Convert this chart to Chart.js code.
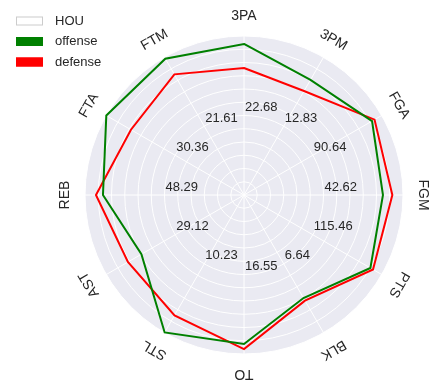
<!DOCTYPE html>
<html>
<head>
<meta charset="utf-8">
<script src="https://cdn.jsdelivr.net/npm/chart.js@4"></script>
<style>
  html, body { margin: 0; padding: 0; background: #fff; }
  #wrap { width: 437px; height: 388px; }
</style>
</head>
<body>
<div id="wrap"><canvas id="radar" width="437" height="388"></canvas></div>
<script>
// axes, clockwise from the top
var categories = ['3PA', '3PM', 'FGA', 'FGM', 'PTS', 'BLK', 'TO', 'STL', 'AST', 'REB', 'FTA', 'FTM'];

// one grid label per axis (each axis has its own scale)
var gridLabels = ['22.68', '12.83', '90.64', '42.62', '115.46', '6.64', '16.55', '10.23', '29.12', '48.29', '30.36', '21.61'];

// values as percent of each axis' range
var offense = [95, 83.6, 93, 87.4, 91.8, 74.8, 93.7, 99.8, 74.5, 88.7, 100, 99];
var defense = [79.9, 75.5, 94.8, 93.3, 93.7, 76.7, 96.9, 87.4, 84.3, 93.1, 82.1, 87.6];

var legendItems = [
    {label: 'HOU', fill: '#ffffff', stroke: '#cccccc'},
    {label: 'offense', fill: 'green', stroke: 'green'},
    {label: 'defense', fill: 'red', stroke: 'red'}
];

var FONT = '"Liberation Sans", Arial, sans-serif';
var TEXT = '#262626';

// draws the rotated axis names, the per-axis grid labels and the legend
const textPlugin = {
    id: 'radarText',
    afterDraw(chart) {
        const ctx = chart.ctx;
        const r = chart.scales.r;
        const R = r.drawingArea;
        ctx.save();
        ctx.fillStyle = TEXT;

        // axis names
        ctx.font = '14px ' + FONT;
        ctx.textAlign = 'center';
        ctx.textBaseline = 'middle';
        categories.forEach(function(name, i) {
            const a = r.getIndexAngle(i);
            const x = r.xCenter + Math.sin(a) * (R + 20);
            const y = r.yCenter - Math.cos(a) * (R + 20);
            ctx.save();
            ctx.translate(x, y);
            ctx.rotate(a);
            ctx.fillText(name, 0, 0);
            ctx.restore();
        });

        // grid labels, anchored at half radius
        ctx.font = '13px ' + FONT;
        ctx.textAlign = 'left';
        gridLabels.forEach(function(txt, i) {
            const a = r.getIndexAngle(i);
            const x = r.xCenter + Math.sin(a) * R * 0.5;
            const y = r.yCenter - Math.cos(a) * R * 0.5;
            ctx.fillText(txt, x + 1, y - 8);
        });

        // legend
        legendItems.forEach(function(item, i) {
            const y = 21 + i * 20.5;
            ctx.fillStyle = item.fill;
            ctx.fillRect(16, y - 4.5, 27, 9);
            ctx.strokeStyle = item.stroke;
            ctx.lineWidth = 1;
            ctx.strokeRect(16.5, y - 4, 26, 8);
            ctx.fillStyle = TEXT;
            ctx.font = '13px ' + FONT;
            ctx.fillText(item.label, 55, y);
        });
        ctx.restore();
    }
};

const data = {
    labels: categories,
    datasets: [{
        label: 'offense',
        data: offense,
        borderColor: 'green',
        borderWidth: 2,
        fill: false,
        pointRadius: 0
    }, {
        label: 'defense',
        data: defense,
        borderColor: 'red',
        borderWidth: 2,
        fill: false,
        pointRadius: 0
    }]
};

const config = {
    type: 'radar',
    data: data,
    options: {
        responsive: false,
        animation: false,
        layout: {
            padding: {left: 85, right: 34, top: 36, bottom: 34}
        },
        plugins: {
            legend: {display: false},
            tooltip: {enabled: false}
        },
        elements: {
            line: {tension: 0}
        },
        scales: {
            r: {
                min: 0,
                max: 100,
                backgroundColor: '#eaeaf2',
                ticks: {display: false, count: 13},
                pointLabels: {display: false},
                grid: {circular: true, color: '#ffffff', lineWidth: 1},
                angleLines: {color: '#ffffff', lineWidth: 1}
            }
        }
    },
    plugins: [textPlugin]
};

const radarChart = new Chart('radar', config);
</script>
</body>
</html>
